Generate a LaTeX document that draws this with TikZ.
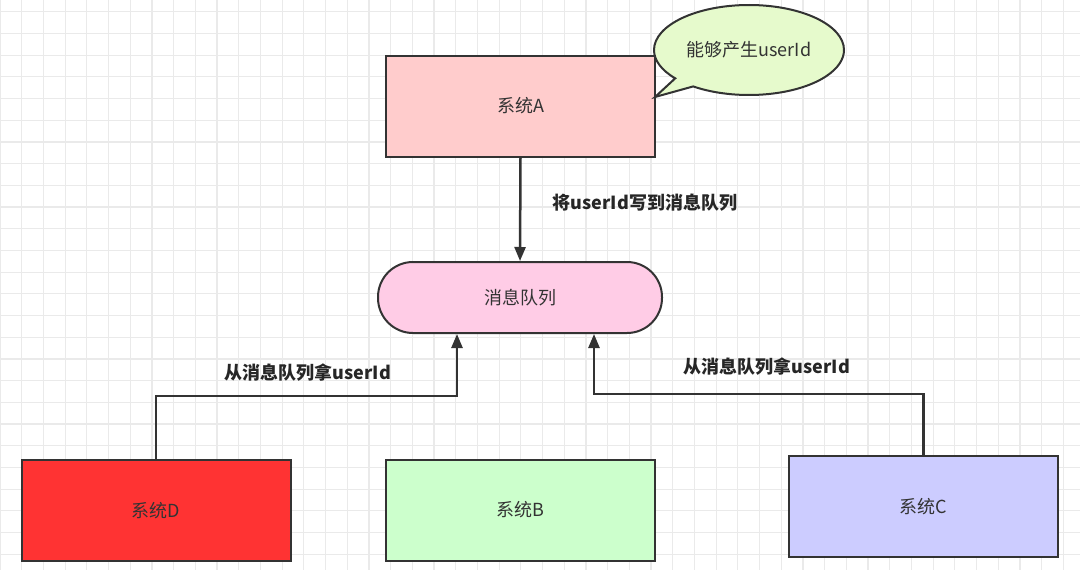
\documentclass[tikz,border=0pt]{standalone}
\usepackage{fontspec}
\setmainfont{Noto Sans CJK SC}
\usepackage{tikz}
\usetikzlibrary{positioning,arrows.meta,shapes.callouts}
\definecolor{edgegray}{HTML}{333333}
\definecolor{gridgray}{HTML}{EAEAEA}
\definecolor{fillA}{HTML}{FFCCCC}
\definecolor{fillB}{HTML}{CCFFCC}
\definecolor{fillC}{HTML}{CCCCFF}
\definecolor{fillD}{HTML}{FF3333}
\definecolor{fillMQ}{HTML}{FFCCE6}
\definecolor{fillNote}{HTML}{E6FACC}

\begin{document}
\begin{tikzpicture}[
  x=1pt,y=-1pt,
  font=\fontsize{18}{21}\selectfont,
  >={Triangle[length=14pt,width=11pt]},
  gridline/.style={gridgray, line width=1.2pt},
  sysbox/.style={draw=edgegray, line width=2pt, align=center, text=edgegray,
    minimum width=269pt, minimum height=101pt, inner sep=0pt},
  queue/.style={draw=edgegray, line width=2pt, rounded corners=35pt, fill=fillMQ,
    text=edgegray, minimum width=284pt, minimum height=71pt},
  flow/.style={->, line width=2.5pt, draw=edgegray},
  lab/.style={font=\fontsize{18}{21}\selectfont\bfseries, text=black!85}
]

% canvas and grid
\useasboundingbox (0,0) rectangle (1080,570);
\fill[white] (0,0) rectangle (1080,570);
\foreach \gx in {0,...,49} {
  \draw[gridline] (21.7*\gx,0) -- (21.7*\gx,570);
}
\foreach \gy in {0,...,26} {
  \draw[gridline] (0,11.7+21.7*\gy) -- (1080,11.7+21.7*\gy);
}

% producer and note
\node[sysbox, fill=fillA] (sysA) at (520.5,106) {系统A};
\node[ellipse callout, draw=edgegray, line width=2pt, fill=fillNote, text=edgegray,
  minimum width=190pt, minimum height=90pt, inner sep=0pt,
  callout absolute pointer={(655,97)}] (note) at (749,50) {能够产生userId};

% message queue
\node[queue] (mq) at (520,297.5) {消息队列};
\coordinate (qL) at ([xshift=-63pt]mq.south);
\coordinate (qR) at ([xshift=74pt]mq.south);

% consumers
\node[sysbox, fill=fillD] (sysD) at (156,510.5) {系统D};
\node[sysbox, fill=fillB] (sysB) at (520.5,510) {系统B};
\node[sysbox, fill=fillC] (sysC) at (923.5,506.5) {系统C};

% connectors
\draw[flow] (sysA.south) -- (mq.north);
\draw[flow] (sysD.north) -- ++(0,-63) -| (qL);
\draw[flow] (sysC.north) -- ++(0,-61) -| (qR);

% labels
\node[lab] (labW) at (645,203) {将userId写到消息队列};
\node[lab] (labD) at (308,373) {从消息队列拿userId};
\node[lab] (labC) at (767,367) {从消息队列拿userId};

\end{tikzpicture}
\end{document}
